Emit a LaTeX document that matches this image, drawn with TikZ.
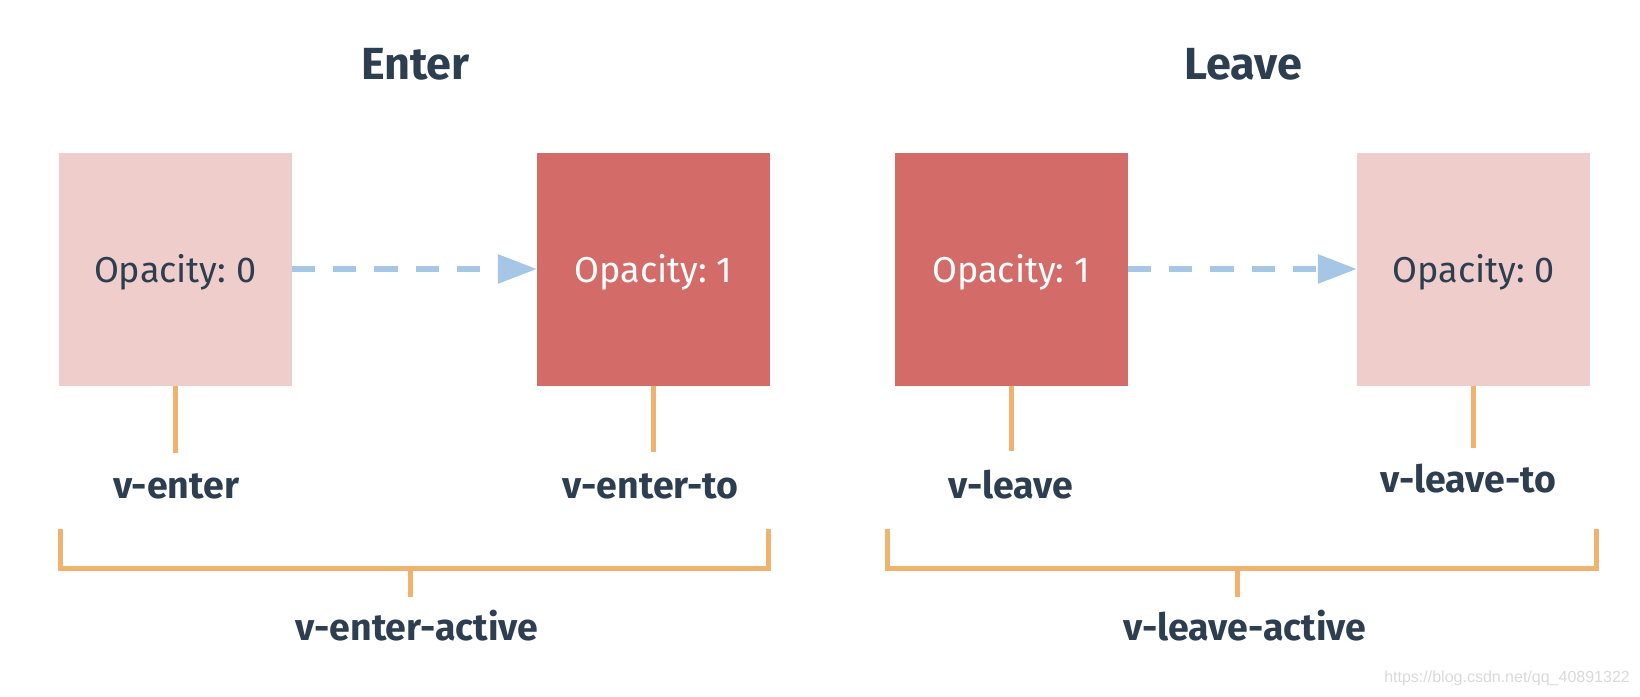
\documentclass[tikz,border=0pt]{standalone}
\usepackage{fontspec}
\setmainfont{Fira Sans}
\newfontfamily\wmfont{Liberation Sans}
\usetikzlibrary{arrows.meta}
\definecolor{navy}{HTML}{2C3E50}
\definecolor{lightbox}{HTML}{EECDCB}
\definecolor{darkbox}{HTML}{D36C69}
\definecolor{bluearrow}{HTML}{A6C6E6}
\definecolor{orangeline}{HTML}{EFB36F}
\definecolor{wmgray}{HTML}{D9D9D9}
\tikzset{
  statebox/.style={rectangle, minimum width=233pt, minimum height=233pt, inner sep=0pt,
    font=\fontsize{36}{36}\selectfont, text height=27pt, text depth=0pt},
  lightstate/.style={statebox, fill=lightbox, text=navy},
  darkstate/.style={statebox, fill=darkbox, text=white},
  flow/.style={draw=bluearrow, line width=5.7pt, dash pattern=on 23.3pt off 18pt,
    -{Triangle[length=39pt, width=28pt]}},
  tie/.style={draw=orangeline, line width=5pt},
  bracketline/.style={draw=orangeline, line width=5pt, line join=miter},
  classlabel/.style={anchor=base, text=navy, font=\fontsize{37.5}{37.5}\selectfont\bfseries, inner sep=0pt},
  title/.style={anchor=base, text=navy, font=\fontsize{45}{45}\selectfont\bfseries, inner sep=0pt},
}
\begin{document}
\begin{tikzpicture}[x=1pt, y=-1pt]
\useasboundingbox (0,0) rectangle (1640,696);
% titles
\node[title] (tenter) at (415.5,79) {Enter};
\node[title] (tleave) at (1243,79) {Leave};
% boxes
\node[lightstate] (b1) at (175.1,269) {Opacity:\hspace{-0.08em} 0};
\node[darkstate]  (b2) at (653.6,269) {Opacity:\hspace{-0.08em} 1};
\node[darkstate]  (b3) at (1011.1,269) {Opacity:\hspace{-0.08em} 1};
\node[lightstate] (b4) at (1473.6,269) {Opacity:\hspace{-0.08em} 0};
% arrows
\draw[flow] (b1.east) -- (b2.west);
\draw[flow] (b3.east) -- (b4.west);
% stems
\coordinate (s1) at (175.1,453);
\coordinate (s2) at (653.6,452);
\coordinate (s3) at (1011.1,451);
\coordinate (s4) at (1473.6,448);
\draw[tie] (b1.south) -- (s1);
\draw[tie] (b2.south) -- (s2);
\draw[tie] (b3.south) -- (s3);
\draw[tie] (b4.south) -- (s4);
% labels
\node[classlabel] (l1) at (176,498) {v-enter};
\node[classlabel] (l2) at (650.6,498) {v-enter-to};
\node[classlabel] (l3) at (1011,498) {v-leave};
\node[classlabel] (l4) at (1468,492) {v-leave-to};
% brackets
\coordinate (ea) at (60.3,529);
\coordinate (eb) at (60.3,568);
\coordinate (ec) at (768.6,568);
\coordinate (ed) at (768.6,529);
\coordinate (em) at (410,568);
\coordinate (en) at (410,597);
\draw[bracketline] (ea) -- (eb) -- (ec) -- (ed);
\draw[tie] (em) -- (en);
\coordinate (la) at (887,529);
\coordinate (lb) at (887,568);
\coordinate (lc) at (1596.4,568);
\coordinate (ld) at (1596.4,529);
\coordinate (lm) at (1237.3,568);
\coordinate (ln) at (1237.3,597);
\draw[bracketline] (la) -- (lb) -- (lc) -- (ld);
\draw[tie] (lm) -- (ln);
\node[classlabel] (a1) at (417,640) {v-enter-active};
\node[classlabel] (a2) at (1245,640) {v-leave-active};
% watermark
\node[anchor=base east, inner sep=0pt, text=wmgray, font=\wmfont\fontsize{16}{16}\selectfont] (wm) at (1630,682) {https://blog.csdn.net/qq\_40891322};
\end{tikzpicture}
\end{document}
